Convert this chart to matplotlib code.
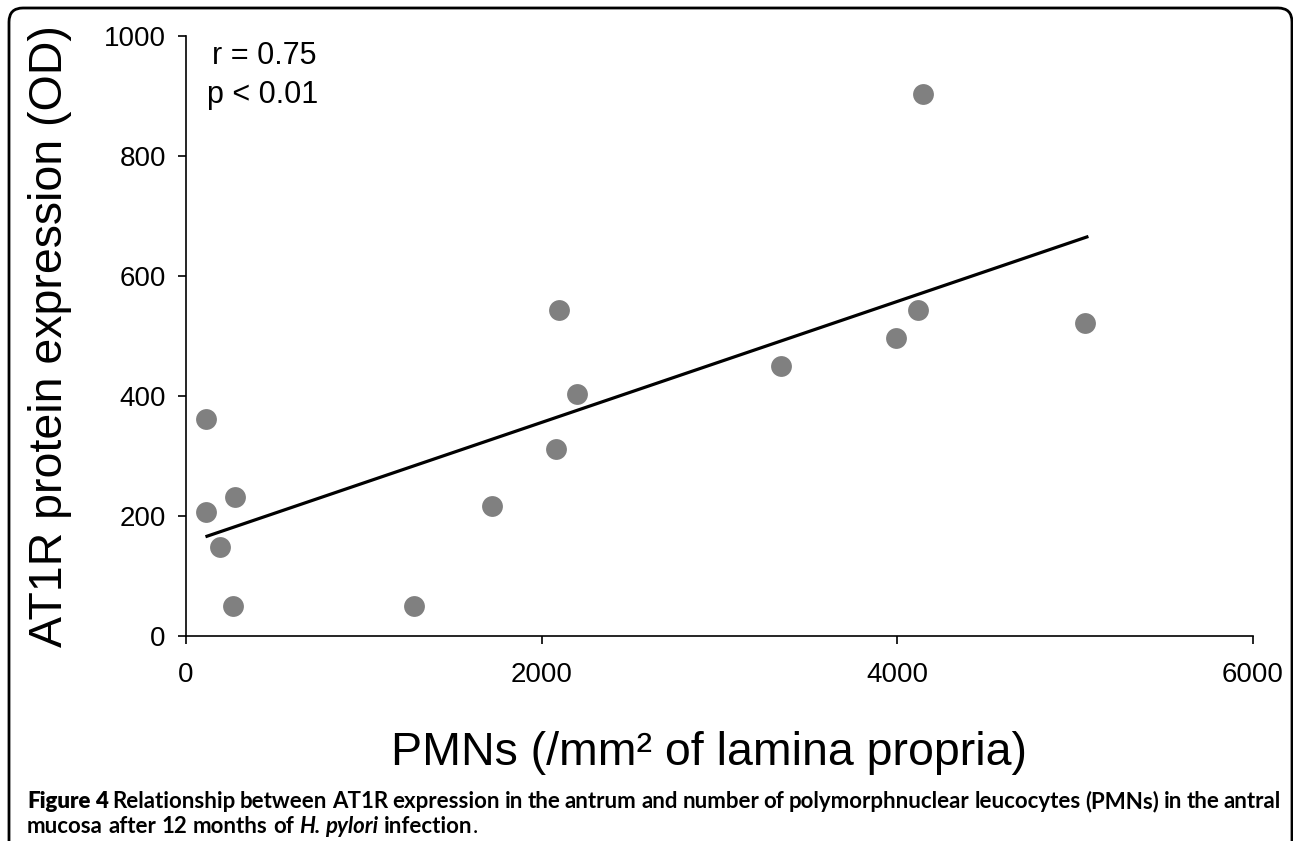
import numpy as np
import matplotlib.pyplot as plt
from matplotlib.patches import FancyBboxPatch
from matplotlib.transforms import IdentityTransform

plt.rcParams['font.family'] = ['Liberation Sans', 'DejaVu Sans']

# PMNs per mm2 vs AT1R OD
pmn = [110, 111, 276, 194, 263, 1282, 1722, 2095, 2196, 2079, 3344, 4143, 4118, 3993, 5056]
at1r = [362, 206, 231, 149, 50, 50, 217, 543, 404, 312, 450, 904, 543, 497, 521]

xticks = [0, 2000, 4000, 6000]
yticks = [0, 200, 400, 600, 800, 1000]

stats = ['r = 0.75', 'p < 0.01']

fig = plt.figure(figsize=(12.93, 8.41), dpi=100)
ax = fig.add_axes([186 / 1293, 1 - 636 / 841, (1253 - 186) / 1293, 600 / 841])

ax.scatter(pmn, at1r, s=225, color='#808080', zorder=3, clip_on=False, linewidths=0)

# least squares line
k, b = np.polyfit(pmn, at1r, 1)
xl = np.array([min(pmn) + 8, max(pmn) + 10])
ax.plot(xl, k * xl + b, color='black', lw=2.3, zorder=4)

ax.set_xlim(0, 6000)
ax.set_ylim(0, 1000)
ax.set_xticks(xticks)
ax.set_yticks(yticks)
for s in ['top', 'right']:
    ax.spines[s].set_visible(False)
for s in ['left', 'bottom']:
    ax.spines[s].set_linewidth(1.2)
ax.tick_params(direction='out', length=5.5, width=1.2, labelsize=20)
ax.tick_params(axis='x', pad=13)
ax.tick_params(axis='y', pad=9)

ax.set_ylabel('AT1R protein expression (OD)', fontsize=33.5, va='baseline')
ax.yaxis.set_label_coords((62 - 186) / 1067, 0.5)
ax.set_xlabel('PMNs (/mm² of lamina propria)', fontsize=33.5, va='baseline')
ax.xaxis.set_label_coords(0.49, (76 - 205) / 600)

ax.text(149, 953, stats[0], fontsize=22, va='baseline')
ax.text(120, 888, stats[1], fontsize=22, va='baseline')

# rounded frame around figure panel
frame = FancyBboxPatch((9, -40), 1283, 841 - 8 + 40,
                       boxstyle='round,pad=0,rounding_size=14',
                       transform=IdentityTransform(), fill=False,
                       lw=2, ec='black')
fig.add_artist(frame)

# caption
cap_font = ['Lato', 'DejaVu Sans']
cap_size = 16
line1 = [('Figure', 'heavy', 'normal'), ('4', 'heavy', 'normal')] + \
    [(w, 'bold', 'normal') for w in
     'Relationship between AT1R expression in the antrum and number of '
     'polymorphnuclear leucocytes (PMNs) in the antral'.split()]
line2 = [('mucosa', 'bold', 'normal', True), ('after', 'bold', 'normal', True),
         ('12', 'bold', 'normal', True), ('months', 'bold', 'normal', True),
         ('of', 'bold', 'normal', True), ('H.', 'bold', 'italic', True),
         ('pylori', 'bold', 'italic', True), ('infection', 'bold', 'normal', True),
         ('.', 'normal', 'normal', False)]

r = fig.canvas.get_renderer()


def word(txt, weight, style, size=cap_size):
    return fig.text(0, 0, txt, transform=IdentityTransform(), family=cap_font,
                    fontsize=size, fontweight=weight, fontstyle=style,
                    va='baseline', ha='left')


x0, x1 = 27, 1281
texts = [word(w, wt, st) for w, wt, st in line1]
widths = [t.get_window_extent(r).width for t in texts]
gap = (x1 - x0 - sum(widths)) / (len(texts) - 1)
x = x0
for t, w in zip(texts, widths):
    t.set_position((x, 841 - 808))
    x += w + gap

probe_a = word('aa', 'bold', 'normal')
probe_b = word('a a', 'bold', 'normal')
space = probe_b.get_window_extent(r).width - probe_a.get_window_extent(r).width
probe_a.remove()
probe_b.remove()
x = x0
for w, wt, st, sp in line2:
    t = word(w, wt, st)
    if sp and x > x0:
        x += space
    t.set_position((x, 841 - 833))
    x += t.get_window_extent(r).width

fig.savefig('out.png', dpi=100)
